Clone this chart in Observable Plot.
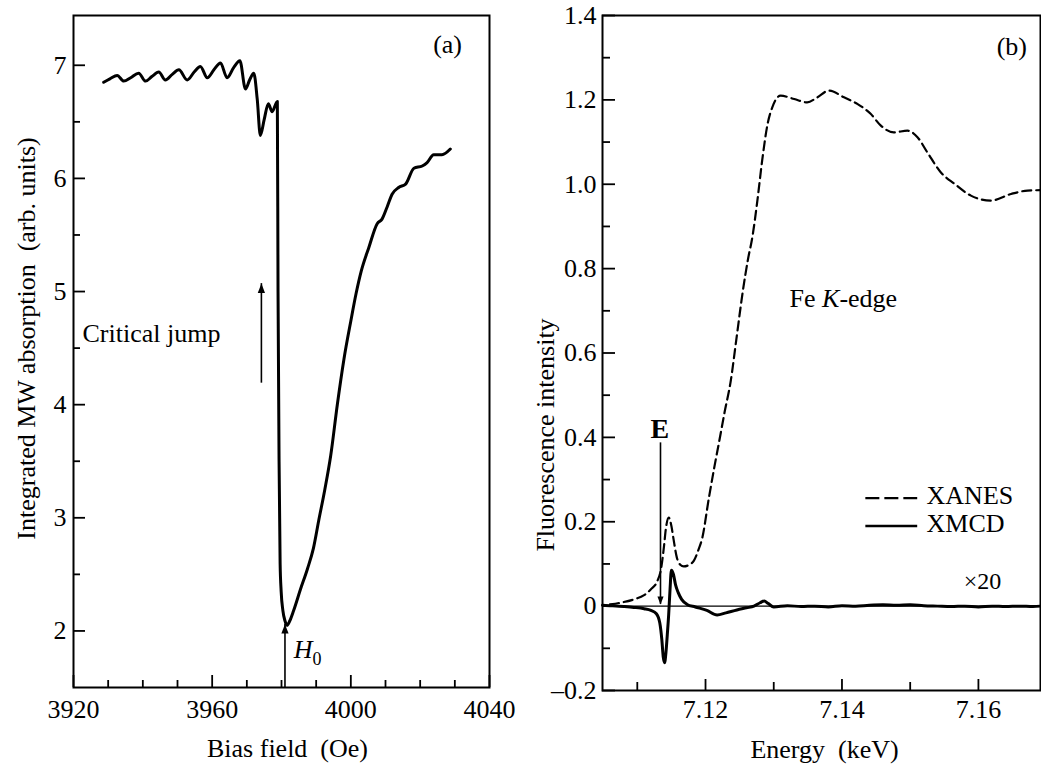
<!DOCTYPE html>
<html><head><meta charset="utf-8">
<script src="https://cdn.jsdelivr.net/npm/d3@7"></script>
<script src="https://cdn.jsdelivr.net/npm/@observablehq/plot@0.6"></script>
<style>
body{margin:0;background:#fff;}
#wrap{position:relative;width:1041px;height:764px;overflow:hidden;background:#fff;}
#pa{position:absolute;left:0;top:0;}
#pb{position:absolute;left:520px;top:0;}
</style></head><body><div id="wrap"><div id="pa"></div><div id="pb"></div></div>
<script>
// ---------- Panel (a) data ----------
const fieldOe = [3928.7,3930.5,3932.6,3934.5,3936.5,3938.8,3940.8,3942.6,3944.6,3946.5,3948.5,3950.4,3952.8,3954.8,3956.6,3958.6,3960.5,3962.4,3964.3,3966.2,3968.0,3969.6,3970.8,3972.0,3973.0,3973.9,3975.0,3976.2,3977.3,3978.8,3979.0,3979.3,3979.6,3979.9,3980.4,3981.0,3981.6,3982.4,3983.5,3985.5,3987.5,3989.2,3990.7,3992.5,3994.2,3996.1,3998.0,4000.0,4001.5,4003.0,4005.2,4007.6,4009.0,4010.5,4011.9,4013.8,4015.8,4018.2,4020.6,4022.0,4023.9,4026.3,4028.7];
const absorption = [6.85,6.88,6.91,6.86,6.89,6.93,6.86,6.90,6.94,6.87,6.92,6.96,6.87,6.94,6.99,6.89,6.96,7.02,6.89,6.98,7.04,6.79,6.87,6.93,6.70,6.38,6.52,6.66,6.59,6.68,5.00,3.50,2.60,2.35,2.18,2.09,2.05,2.09,2.18,2.37,2.55,2.73,2.97,3.25,3.55,4.00,4.40,4.74,4.98,5.18,5.39,5.60,5.64,5.75,5.86,5.92,5.95,6.09,6.11,6.14,6.21,6.21,6.26];
const xDomainA = [3920, 4040];
const yDomainA = [1.5, 7.44];
const xMajorA = [3920, 3960, 4000, 4040];
const xMinorA = [3930, 3940, 3950, 3970, 3980, 3990, 4010, 4020, 4030];
const yMajorA = [2, 3, 4, 5, 6, 7];
const yMinorA = [2.5, 3.5, 4.5, 5.5, 6.5];
const xLabelA = "Bias field\u00a0\u00a0(Oe)";
const yLabelA = "Integrated MW absorption\u00a0\u00a0(arb. units)";
// annotations (a)
const critArrow = {x: 3974.2, y1: 4.19, y2: 5.07};
const h0Arrow = {x: 3981.0, y1: 1.5, y2: 2.06};

// ---------- Panel (b) data ----------
const xanesE = [7.1060,7.1075,7.1095,7.1110,7.1120,7.1129,7.1135,7.1139,7.1142,7.1146,7.1150,7.1153,7.1158,7.1163,7.1168,7.1176,7.1183,7.1190,7.1195,7.1205,7.1213,7.1220,7.1228,7.1237,7.1245,7.1255,7.1262,7.1269,7.1276,7.1283,7.1291,7.1298,7.1310,7.1330,7.1349,7.1364,7.1381,7.1403,7.1423,7.1442,7.1457,7.1476,7.1496,7.1511,7.1525,7.1545,7.1565,7.1589,7.1618,7.1648,7.1672,7.1691];
const xanesV = [0.004,0.008,0.016,0.026,0.040,0.058,0.090,0.140,0.185,0.210,0.190,0.160,0.115,0.098,0.094,0.098,0.108,0.135,0.160,0.257,0.330,0.390,0.460,0.534,0.630,0.750,0.820,0.878,0.961,1.056,1.143,1.183,1.210,1.202,1.194,1.206,1.222,1.206,1.190,1.167,1.139,1.123,1.127,1.111,1.076,1.028,1.001,0.973,0.961,0.977,0.985,0.986];
const xmcdE = [7.1049,7.1060,7.1080,7.1095,7.1110,7.1120,7.1128,7.1133,7.1136,7.1138,7.1140,7.1142,7.1144,7.1146,7.1148,7.1150,7.1153,7.1156,7.1160,7.1165,7.1173,7.1185,7.1202,7.1217,7.1230,7.1246,7.1260,7.1271,7.1280,7.1286,7.1292,7.1300,7.1320,7.1340,7.1360,7.1380,7.1400,7.1420,7.1440,7.1460,7.1480,7.1500,7.1520,7.1540,7.1560,7.1580,7.1600,7.1620,7.1640,7.1660,7.1680,7.1691];
const xmcdV = [0.002,0.001,-0.001,-0.003,-0.006,-0.010,-0.018,-0.040,-0.080,-0.120,-0.134,-0.110,-0.067,-0.020,0.040,0.085,0.075,0.051,0.032,0.016,0.004,-0.002,-0.010,-0.021,-0.016,-0.009,-0.004,0.000,0.008,0.012,0.006,-0.002,0.001,-0.001,0.000,-0.002,0.001,0.000,0.002,0.003,0.002,0.003,0.001,0.000,-0.001,0.000,-0.002,0.000,-0.001,0.000,-0.001,0.000];
const xDomainB = [7.1049, 7.1691];
const yDomainB = [-0.2, 1.4];
const xMajorB = [7.12, 7.14, 7.16];
const xMinorB = [7.11, 7.13, 7.15];
const yMajorB = [-0.2, 0, 0.2, 0.4, 0.6, 0.8, 1.0, 1.2, 1.4];
const yMajorLabelsB = ["\u20130.2", "0", "0.2", "0.4", "0.6", "0.8", "1.0", "1.2", "1.4"];
const yMinorB = [-0.1, 0.1, 0.3, 0.5, 0.7, 0.9, 1.1, 1.3];
const xLabelB = "Energy\u00a0\u00a0(keV)";
const yLabelB = "Fluorescence intensity";
const seriesNames = ["XANES", "XMCD"];
const eArrow = {x: 7.1134, y1: 0.387, y2: 0.004};

// ---------- helpers ----------
const FONT = "Liberation Serif";
const triUp = {draw(ctx, size){ const s = Math.sqrt(size); ctx.moveTo(0,0); ctx.lineTo(-s*0.62, s*1.6); ctx.lineTo(s*0.62, s*1.6); ctx.closePath(); }};
const triDown = {draw(ctx, size){ const s = Math.sqrt(size); ctx.moveTo(0,0); ctx.lineTo(-s*0.62, -s*1.6); ctx.lineTo(s*0.62, -s*1.6); ctx.closePath(); }};
const T = {fontFamily: FONT, fontSize: 26, lineAnchor: "middle"};

// ---------- Panel (a) ----------
const WA = 520, HA = 764, mA = {top: 15, right: 31, bottom: 77, left: 73};
const phA = HA - mA.top - mA.bottom, pwA = WA - mA.left - mA.right;
const dataA = fieldOe.map((x, i) => ({x, y: absorption[i]}));
const plotA = Plot.plot({
  width: WA, height: HA,
  marginTop: mA.top, marginRight: mA.right, marginBottom: mA.bottom, marginLeft: mA.left,
  x: {domain: xDomainA, axis: null},
  y: {domain: yDomainA, axis: null},
  style: {fontFamily: FONT, fontSize: "26px", color: "black", background: "white", overflow: "visible"},
  marks: [
    Plot.tickX(xMajorA, {x: d => d, insetTop: phA - 12, stroke: "black", strokeWidth: 1.8}),
    Plot.tickX(xMinorA, {x: d => d, insetTop: phA - 7, stroke: "black", strokeWidth: 1.8}),
    Plot.tickY(yMajorA, {y: d => d, insetRight: pwA - 12, stroke: "black", strokeWidth: 1.8}),
    Plot.tickY(yMinorA, {y: d => d, insetRight: pwA - 7, stroke: "black", strokeWidth: 1.8}),
    Plot.text(xMajorA, {...T, x: d => d, frameAnchor: "bottom", textAnchor: "middle", dy: 22, text: d => String(d)}),
    Plot.text(yMajorA, {...T, y: d => d, frameAnchor: "left", dx: -7, textAnchor: "end", text: d => String(d)}),
    Plot.text([xLabelA], {...T, frameAnchor: "bottom", textAnchor: "middle", dx: 6, dy: 61, text: d => d}),
    Plot.text([yLabelA], {...T, frameAnchor: "left", textAnchor: "middle", rotate: -90, dx: -47, dy: -13, text: d => d}),
    Plot.line(dataA, {x: "x", y: "y", stroke: "black", strokeWidth: 3, strokeLinejoin: "round", curve: "monotone-x"}),
    // critical jump arrow
    Plot.ruleX([critArrow], {x: "x", y1: "y1", y2: "y2", stroke: "black", strokeWidth: 1.6}),
    Plot.dot([critArrow], {x: "x", y: "y2", symbol: triUp, r: 3.3, fill: "black", stroke: "none"}),
    Plot.text(["Critical jump"], {...T, x: 3922.6, y: 4.63, textAnchor: "start", text: d => d}),
    // H0 arrow
    Plot.ruleX([h0Arrow], {x: "x", y1: "y1", y2: "y2", stroke: "black", strokeWidth: 1.6}),
    Plot.dot([h0Arrow], {x: "x", y: "y2", symbol: triUp, r: 3.3, fill: "black", stroke: "none"}),
    Plot.text(["H0"], {...T, x: 3983.5, y: 1.83, textAnchor: "start", text: d => d}),
    Plot.text(["(a)"], {...T, x: 4027.9, y: 7.18, textAnchor: "middle", text: d => d}),
    Plot.frame({stroke: "black", strokeWidth: 2})
  ]
});
document.getElementById("pa").appendChild(plotA);

// ---------- Panel (b) ----------
const WB = 521, HB = 764, mB = {top: 15, right: 1, bottom: 74, left: 82};
const phB = HB - mB.top - mB.bottom, pwB = WB - mB.left - mB.right;
const xanes = xanesE.map((x, i) => ({x, y: xanesV[i]}));
const xmcd = xmcdE.map((x, i) => ({x, y: xmcdV[i]}));
const yLabB = yMajorB.map((v, i) => ({v, label: yMajorLabelsB[i]}));
const legendX = [7.1435, 7.1511];
const legendRows = [
  {name: seriesNames[0], y: 0.256},
  {name: seriesNames[1], y: 0.19}
];
const plotB = Plot.plot({
  width: WB, height: HB,
  marginTop: mB.top, marginRight: mB.right, marginBottom: mB.bottom, marginLeft: mB.left,
  x: {domain: xDomainB, axis: null},
  y: {domain: yDomainB, axis: null},
  style: {fontFamily: FONT, fontSize: "26px", color: "black", background: "white", overflow: "visible"},
  marks: [
    Plot.tickX(xMajorB, {x: d => d, insetTop: phB - 11, stroke: "black", strokeWidth: 1.8}),
    Plot.tickX(xMinorB, {x: d => d, insetTop: phB - 8, stroke: "black", strokeWidth: 1.8}),
    Plot.tickY(yMajorB, {y: d => d, insetRight: pwB - 13, stroke: "black", strokeWidth: 1.8}),
    Plot.tickY(yMinorB, {y: d => d, insetRight: pwB - 8, stroke: "black", strokeWidth: 1.8}),
    Plot.text(xMajorB, {...T, x: d => d, frameAnchor: "bottom", textAnchor: "middle", dy: 19, text: d => d.toFixed(2)}),
    Plot.text(yLabB, {...T, y: "v", frameAnchor: "left", dx: -6, textAnchor: "end", text: "label"}),
    Plot.text([xLabelB], {...T, frameAnchor: "bottom", textAnchor: "middle", dx: 3, dy: 59, text: d => d}),
    Plot.text([yLabelB], {...T, frameAnchor: "left", textAnchor: "middle", rotate: -90, dx: -57, dy: 82, text: d => d}),
    Plot.ruleY([0], {stroke: "black", strokeWidth: 1.4}),
    Plot.line(xanes, {x: "x", y: "y", stroke: "black", strokeWidth: 2.2, strokeDasharray: "9,5", curve: "monotone-x"}),
    Plot.line(xmcd, {x: "x", y: "y", stroke: "black", strokeWidth: 3, curve: "monotone-x"}),
    // E arrow
    Plot.ruleX([eArrow], {x: "x", y1: "y1", y2: "y2", stroke: "black", strokeWidth: 1.6}),
    Plot.dot([eArrow], {x: "x", y: "y2", symbol: triDown, r: 2.8, fill: "black", stroke: "none"}),
    Plot.text(["E"], {...T, x: 7.1133, y: 0.42, textAnchor: "middle", text: d => d, fontSize: 28, fontWeight: "bold"}),
    Plot.text(["Fe K-edge"], {...T, x: 7.1402, y: 0.729, textAnchor: "middle", text: d => d}),
    Plot.text(["\u00d720"], {...T, x: 7.1606, y: 0.059, textAnchor: "middle", text: d => d, fontSize: 24}),
    Plot.text(["(b)"], {...T, x: 7.1649, y: 1.327, textAnchor: "middle", text: d => d}),
    // legend
    Plot.ruleY([legendRows[0]], {y: "y", x1: legendX[0], x2: legendX[1], stroke: "black", strokeWidth: 2.4, strokeDasharray: "14,5"}),
    Plot.ruleY([legendRows[1]], {y: "y", x1: legendX[0], x2: legendX[1], stroke: "black", strokeWidth: 2.6}),
    Plot.text(legendRows, {...T, x: 7.1524, y: d => d.y + 0.005, text: "name", textAnchor: "start"}),
    Plot.frame({stroke: "black", strokeWidth: 2})
  ]
});
document.getElementById("pb").appendChild(plotB);

// rich text (italic / subscript) for a couple of labels
for (const t of document.querySelectorAll("svg text")) {
  if (t.textContent === "H0") {
    t.innerHTML = '<tspan font-style="italic">H</tspan><tspan font-size="18" dy="7">0</tspan>';
  } else if (t.textContent === "Fe K-edge") {
    t.innerHTML = 'Fe <tspan font-style="italic">K</tspan>-edge';
  }
}
</script>
</body></html>
